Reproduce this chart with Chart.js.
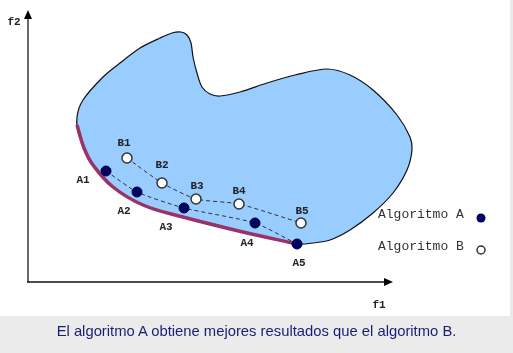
<!DOCTYPE html>
<html>
<head>
<meta charset="utf-8">
<script src="https://cdn.jsdelivr.net/npm/chart.js@4.4.1/dist/chart.umd.min.js"></script>
<style>
  html, body { margin: 0; padding: 0; }
  body { width: 513px; height: 353px; background: #ebebeb; position: relative; overflow: hidden; }
  #panel { position: absolute; left: 0; top: 0; width: 510px; height: 316px; background: #fff; }
  #chart { position: absolute; left: 0; top: 0; }
  #caption {
    position: absolute; left: 0; top: 323px; width: 513px; text-align: center;
    font-family: "Liberation Sans", Arial, sans-serif; font-size: 14.8px; color: #1c1c78;
  }
</style>
</head>
<body>
<div id="panel"></div>
<canvas id="chart" width="513" height="353"></canvas>
<div id="caption">El algoritmo A obtiene mejores resultados que el algoritmo B.</div>
<script>
  // objective space (f1, f2), arbitrary units
  const regionF1 = [155, 115, 85, 65, 51, 49, 55, 75, 92, 112, 132, 144, 153, 159, 163, 165, 169, 174, 182, 192, 212, 239, 267, 299, 322, 345, 369, 382, 384, 379, 365, 345, 322, 302, 285, 270, 242, 215, 182, 155];
  const regionF2 = [65, 77, 95, 117, 147, 165, 182, 205, 219, 234, 244, 249, 250, 247, 239, 225, 209, 195, 188, 186, 190, 199, 207, 213, 207, 192, 167, 145, 132, 112, 89, 69, 52, 42, 39, 38, 44, 50, 59, 65];

  const frontF1 = [49, 56, 65, 85, 115, 155, 215, 269];
  const frontF2 = [157, 134, 117, 95, 77, 65, 50, 38];

  const labelsA = ['A1', 'A2', 'A3', 'A4', 'A5'];
  const algoAF1 = [78, 109, 156, 227, 269];
  const algoAF2 = [111, 90, 74, 59, 38];

  const labelsB = ['B1', 'B2', 'B3', 'B4', 'B5'];
  const algoBF1 = [99, 134, 168, 211, 273];
  const algoBF2 = [124, 99, 83, 78, 59];

  const axisF1Max = 365;
  const axisF2Max = 272;

  // label offsets from their point, in px
  const offA = [[-23, 9], [-13, 19], [-18, 19], [-8, 20], [2, 19]];
  const offB = [[-3, -15], [0, -18], [1, -13], [0, -13], [1, -12]];

  const pts = (xs, ys) => xs.map((x, i) => ({ x: x, y: ys[i] }));

  const drawExtras = {
    id: 'drawExtras',
    afterDatasetsDraw(chart) {
      const ctx = chart.ctx;
      const xs = chart.scales.x, ys = chart.scales.y;
      const x0 = xs.getPixelForValue(0), y0 = ys.getPixelForValue(0);
      const xEnd = xs.getPixelForValue(axisF1Max), yEnd = ys.getPixelForValue(axisF2Max);

      ctx.save();
      // axes
      ctx.lineWidth = 1.6;
      ctx.strokeStyle = '#444';
      ctx.beginPath();
      ctx.moveTo(x0, y0);
      ctx.lineTo(x0, yEnd + 6);
      ctx.stroke();
      ctx.strokeStyle = '#111';
      ctx.beginPath();
      ctx.moveTo(x0 - 1, y0);
      ctx.lineTo(xEnd - 6, y0);
      ctx.stroke();
      ctx.fillStyle = '#000';
      ctx.beginPath();
      ctx.moveTo(x0, yEnd);
      ctx.lineTo(x0 - 4, yEnd + 9);
      ctx.lineTo(x0 + 4, yEnd + 9);
      ctx.closePath();
      ctx.fill();
      ctx.beginPath();
      ctx.moveTo(xEnd, y0);
      ctx.lineTo(xEnd - 9, y0 - 4);
      ctx.lineTo(xEnd - 9, y0 + 4);
      ctx.closePath();
      ctx.fill();

      ctx.font = 'bold 11px "Liberation Mono", "Courier New", monospace';
      ctx.textAlign = 'center';
      ctx.textBaseline = 'middle';
      ctx.fillStyle = '#222';
      ctx.fillText('f2', x0 - 14, yEnd + 12);
      ctx.fillText('f1', xEnd - 14, y0 + 23);

      // point labels
      labelsA.forEach((t, i) => {
        ctx.fillText(t, xs.getPixelForValue(algoAF1[i]) + offA[i][0], ys.getPixelForValue(algoAF2[i]) + offA[i][1]);
      });
      labelsB.forEach((t, i) => {
        ctx.fillText(t, xs.getPixelForValue(algoBF1[i]) + offB[i][0], ys.getPixelForValue(algoBF2[i]) + offB[i][1]);
      });

      // legend
      ctx.font = '13px "Liberation Mono", "Courier New", monospace';
      ctx.textAlign = 'left';
      ctx.fillStyle = '#333';
      ctx.fillText('Algoritmo A', 378, 215);
      ctx.fillText('Algoritmo B', 378, 247);
      ctx.fillStyle = '#000066';
      ctx.beginPath();
      ctx.arc(481, 218, 4.5, 0, Math.PI * 2);
      ctx.fill();
      ctx.fillStyle = '#fff';
      ctx.strokeStyle = '#333';
      ctx.lineWidth = 1.5;
      ctx.beginPath();
      ctx.arc(481, 250, 4, 0, Math.PI * 2);
      ctx.fill();
      ctx.stroke();
      ctx.restore();
    }
  };

  new Chart(document.getElementById('chart'), {
    type: 'line',
    data: {
      datasets: [
        {
          label: 'Algoritmo A',
          data: pts(algoAF1, algoAF2),
          order: 1,
          borderColor: '#333',
          borderWidth: 1,
          borderDash: [4, 3],
          tension: 0.2,
          pointRadius: 5,
          pointBackgroundColor: '#000066',
          pointBorderColor: '#000033',
          pointBorderWidth: 1,
          clip: false
        },
        {
          label: 'Algoritmo B',
          data: pts(algoBF1, algoBF2),
          order: 2,
          borderColor: '#333',
          borderWidth: 1,
          borderDash: [4, 3],
          tension: 0.2,
          pointRadius: 5,
          pointBackgroundColor: '#fff',
          pointBorderColor: '#333',
          pointBorderWidth: 1.5,
          clip: false
        },
        {
          label: 'Frente',
          data: pts(frontF1, frontF2),
          order: 3,
          borderColor: '#993366',
          borderWidth: 3.5,
          tension: 0.4,
          pointRadius: 0,
          clip: false
        },
        {
          label: 'Region',
          data: pts(regionF1, regionF2),
          order: 4,
          borderColor: '#111',
          borderWidth: 1.2,
          backgroundColor: '#99ccff',
          fill: 'shape',
          tension: 0.3,
          pointRadius: 0,
          clip: false
        }
      ]
    },
    options: {
      responsive: false,
      animation: false,
      events: [],
      layout: { padding: { left: 28, top: 10, right: 93, bottom: 71 } },
      elements: { line: { capBezierPoints: false } },
      scales: {
        x: { type: 'linear', min: 0, max: 392, display: false },
        y: { type: 'linear', min: 0, max: 272, display: false }
      },
      plugins: {
        legend: { display: false },
        tooltip: { enabled: false }
      }
    },
    plugins: [drawExtras]
  });
</script>
</body>
</html>
